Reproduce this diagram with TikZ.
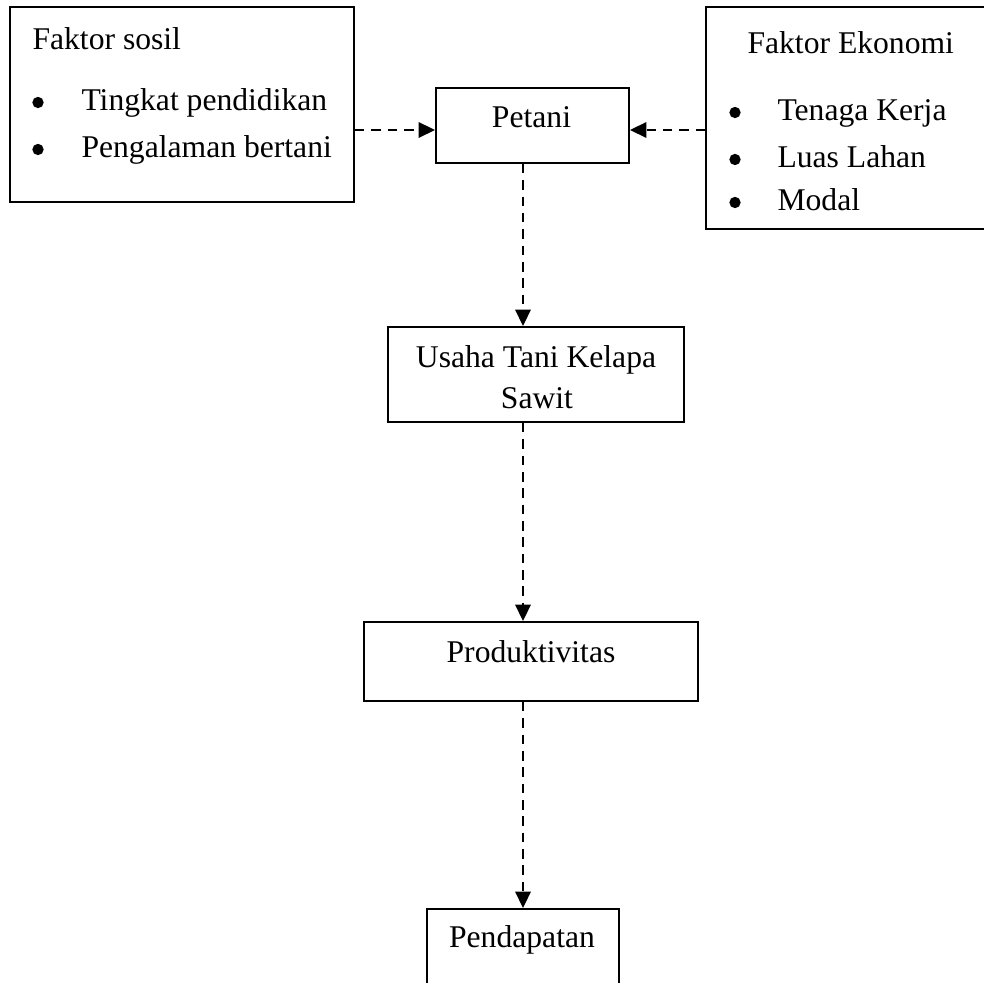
\documentclass[tikz,border=0pt]{standalone}
\usepackage{fontspec}
\setmainfont{Liberation Serif}
\usetikzlibrary{arrows.meta}

\newcommand{\pxl}{0.3794pt}

\begin{document}
\begin{tikzpicture}[
        x=0.3794pt, y=-0.3794pt,
        box/.style={rectangle, draw=black, line width=0.75pt, inner sep=0pt},
        txt/.style={inner sep=0pt, font=\fontsize{12}{14}\selectfont},
        dot/.style={circle, fill=black, inner sep=0pt, minimum size=4.3pt},
        flow/.style={-{Triangle[length=6.2pt,width=5.8pt]}, line width=0.9pt, dash pattern=on 3.6pt off 2.6pt}
    ]
        \useasboundingbox (0,0) rectangle (984,983);

        % Boxes
        \node[box, minimum width=344*\pxl, minimum height=195*\pxl] (sosil) at (182,104.5) {};
        \node[box, minimum width=284*\pxl, minimum height=222*\pxl] (ekonomi) at (848,118) {};
        \node[box, minimum width=193*\pxl, minimum height=75*\pxl] (petani) at (532.5,125.5) {};
        \node[box, minimum width=296*\pxl, minimum height=95*\pxl] (usaha) at (536,374.5) {};
        \node[box, minimum width=334*\pxl, minimum height=79*\pxl] (produk) at (531,661.5) {};
        \node[box, minimum width=192*\pxl, minimum height=91*\pxl] (pendapatan) at (523,954.5) {};

        % Texts of the side boxes
        \node[txt, anchor=base west] (sosiltitle) at (32,50) {Faktor sosil};
        \foreach \entry/\yy [count=\i] in {Tingkat pendidikan/111, Pengalaman bertani/158} {
            \node[dot] (sdot\i) at (38,\yy-8.5) {};
            \node[txt, anchor=base west] (sitem\i) at (81,\yy) {\entry};
        }
        \node[txt, anchor=base west] (ekonomititle) at (747,54) {Faktor Ekonomi};
        \foreach \entry/\yy [count=\i] in {Tenaga Kerja/121, Luas Lahan/168, Modal/211} {
            \node[dot] (edot\i) at (735,\yy-8.5) {};
            \node[txt, anchor=base west] (eitem\i) at (777,\yy) {\entry};
        }

        % Texts of the chain
        \node[txt, anchor=base] (petanitext) at (531.5,128) {Petani};
        \node[txt, anchor=base] (usahatext) at (536,368) {Usaha Tani Kelapa};
        \node[txt, anchor=base] (sawittext) at (537,408) {Sawit};
        \node[txt, anchor=base] (produktext) at (531,662) {Produktivitas};
        \node[txt, anchor=base] (pendapatantext) at (522,947) {Pendapatan};

        % Connectors
        \coordinate (spine) at (523,0);
        \coordinate (mid) at (0,130);
        \draw[flow] (sosil.east |- mid) -- (petani.west |- mid);
        \draw[flow] (ekonomi.west |- mid) -- (petani.east |- mid);
        \draw[flow] (petani.south -| spine) -- (usaha.north -| spine);
        \draw[flow] (usaha.south -| spine) -- (produk.north -| spine);
        \draw[flow] (produk.south -| spine) -- (pendapatan.north -| spine);
    \end{tikzpicture}
\end{document}
